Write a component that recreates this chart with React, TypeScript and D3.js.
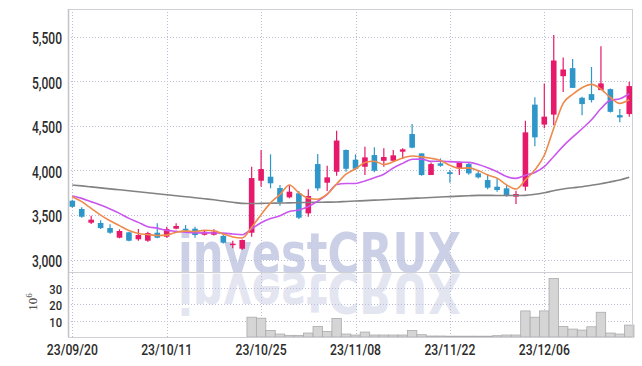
import React from "react";
import * as d3 from "d3";

const opens = [3660,3567,3413,3410,3353,3245,3305,3227,3211,3301,3256,3346,3345,3346,3278,3278,3264,3170,3121,3301,3884,3929,3802,3698,3743,3518,4071,3862,3985,4229,4120,4041,4172,4108,4108,4210,4408,4191,3948,4079,3980,4023,4071,3967,3892,3817,3799,3705,3817,4738,4514,4626,5057,5147,4815,4856,4901,4912,4620,4632];
const highs = [3670,3586,3491,3440,3395,3339,3310,3342,3312,3406,3368,3406,3387,3368,3320,3339,3290,3211,3225,4041,4229,4180,3836,3836,3770,3788,4184,4052,4445,4235,4180,4266,4259,4248,4229,4248,4520,4191,4090,4135,4004,4097,4090,4004,3959,3911,3836,3772,4557,4820,4976,5518,5268,5249,4826,5160,5394,4920,4688,4995];
const lows = [3580,3469,3398,3342,3290,3238,3205,3211,3200,3240,3245,3340,3312,3245,3270,3270,3180,3126,3107,3256,3817,3799,3604,3687,3454,3480,3772,3768,3940,3985,4004,3948,3978,4041,4108,4128,4248,3940,3948,4041,3862,3948,3950,3910,3789,3761,3705,3623,3772,4270,4472,4506,4881,4926,4620,4762,4901,4650,4539,4601];
const closes = [3592,3480,3447,3353,3301,3320,3211,3275,3297,3245,3342,3376,3335,3275,3312,3312,3189,3178,3219,3914,4015,3855,3642,3761,3469,3712,3799,3922,4335,4018,4018,4146,3996,4150,4169,4236,4255,3948,4071,4052,3960,4090,3967,3922,3806,3780,3716,3735,4427,4371,4603,5233,5132,4926,4744,4789,4976,4657,4594,4946];
const volumes = [0,0,0,0,0,0,0,0,0,0,0,0,0,0,0,0,0,0,0,12,11.4,4,1.8,1,1,2.4,6.4,3.4,11.2,1.8,1.2,3,1.2,1.2,1.2,1.2,4,1.4,0.6,0.6,0.5,0.5,0.5,0.5,0.5,0.8,1.2,1.2,15.8,12,15.8,35.5,6.4,4.8,4.2,6.2,15,2.4,1.8,7.2];
const ma5 = [3705,3649,3574,3499,3435,3380,3326,3292,3281,3270,3274,3307,3319,3315,3328,3322,3285,3253,3242,3362,3503,3636,3729,3837,3748,3688,3677,3733,3847,3957,4018,4088,4103,4066,4096,4139,4161,4152,4136,4112,4057,4024,4028,3998,3949,3913,3838,3792,3893,4006,4170,4474,4753,4853,4928,4965,4913,4818,4752,4792];
const ma10 = [3712,3686,3649,3611,3567,3518,3462,3417,3368,3352,3327,3317,3306,3298,3299,3298,3296,3286,3278,3345,3413,3460,3491,3540,3555,3595,3656,3731,3842,3853,3853,3882,3918,3957,4027,4079,4125,4127,4101,4104,4098,4093,4090,4067,4031,3985,3931,3910,3946,3977,4042,4156,4273,4373,4467,4568,4694,4786,4803,4860];
const ma60 = [3836,3826,3815,3804,3793,3782,3771,3760,3749,3738,3727,3716,3705,3694,3682,3670,3656,3642,3630,3628,3630,3632,3634,3636,3638,3640,3642,3644,3646,3651,3656,3661,3666,3671,3676,3681,3686,3691,3696,3701,3706,3711,3716,3720,3720,3719,3718,3718,3720,3732,3750,3772,3792,3805,3817,3834,3851,3871,3892,3922];
const priceTicks = [3000,3500,4000,4500,5000,5500];
const volTicks = [10,20,30];
const dateTickIdx = [0,10,20,30,40,50];
const dateTickLabels = ["23/09/20","23/10/11","23/10/25","23/11/08","23/11/22","23/12/06"];

const W = 642, H = 366;
const L = 68, R = 632, T = 9, MID = 272, B = 337;
const UP = "#e6196a", DOWN = "#2f96c9";
const GRID = "#b9bdd6";
const FONT = "Roboto, 'DejaVu Sans', sans-serif";

export default function App() {
  const x = d3.scaleLinear().domain([0, 50]).range([72.3, 544.3]);
  const step = x(1) - x(0);
  const y = d3.scaleLinear().domain([2860, 5811]).range([MID, T]);
  const yv = d3.scaleLinear().domain([0, 39.4]).range([B, MID]);
  const idx = d3.range(closes.length);
  const line = (arr: number[]) =>
    d3.line<number>().x((i) => x(i)).y((i) => y(arr[i])).curve(d3.curveMonotoneX)(idx) || "";
  const bw = 5.6;

  return (
    <svg width={W} height={H} style={{ position: "absolute", left: 0, top: 0, background: "#fff" }}>
      {/* watermark */}
      <g fontFamily="'DejaVu Sans', sans-serif" fontWeight="bold" fontSize={55}>
        <text x={178} y={272} fill="#cbd0e7" textLength={283} lengthAdjust="spacingAndGlyphs">investCRUX</text>
        <g transform={`translate(0, ${273 * 2}) scale(1,-1)`}>
          <text x={178} y={272} fill="#e3e5f1" textLength={283} lengthAdjust="spacingAndGlyphs">investCRUX</text>
        </g>
      </g>
      {/* grid */}
      <g stroke={GRID} strokeWidth={1} strokeDasharray="1,2">
        {priceTicks.map((v) => (
          <line key={"p" + v} x1={L} x2={R} y1={Math.round(y(v)) + 0.5} y2={Math.round(y(v)) + 0.5} />
        ))}
        {volTicks.map((v) => (
          <line key={"v" + v} x1={L} x2={R} y1={Math.round(yv(v)) + 0.5} y2={Math.round(yv(v)) + 0.5} />
        ))}
        {dateTickIdx.map((i) => (
          <line key={"d" + i} x1={Math.round(x(i)) + 0.5} x2={Math.round(x(i)) + 0.5} y1={T} y2={B} />
        ))}
      </g>
      {/* volume bars */}
      <g>
        {idx.filter((i) => volumes[i] > 0).map((i) => (
          <rect key={i} x={x(i) - step / 2} width={step} y={yv(volumes[i])} height={B - yv(volumes[i])}
            fill="#d5d5d5" stroke="#ababab" strokeWidth={0.8} />
        ))}
      </g>
      {/* candles */}
      <g>
        {idx.map((i) => {
          const up = closes[i] >= opens[i];
          const c = up ? UP : DOWN;
          const top = y(Math.max(opens[i], closes[i]));
          const bot = y(Math.min(opens[i], closes[i]));
          const h = Math.max(1.5, bot - top);
          return (
            <g key={i}>
              <line x1={x(i)} x2={x(i)} y1={y(highs[i])} y2={y(lows[i])} stroke={c} strokeWidth={1.2} />
              <rect x={x(i) - bw / 2} width={bw} y={top} height={h} fill={c} />
            </g>
          );
        })}
      </g>
      {/* moving averages */}
      <path d={line(ma60)} fill="none" stroke="#828282" strokeWidth={1.6} />
      <path d={line(ma10)} fill="none" stroke="#c957ee" strokeWidth={1.6} />
      <path d={line(ma5)} fill="none" stroke="#ee8a4c" strokeWidth={1.6} />
      {/* frame */}
      <g stroke="#cfd0d6" strokeWidth={1} fill="none">
        <rect x={L + 0.5} y={T + 0.5} width={R - L} height={B - T} />
        <line x1={L} x2={R} y1={MID + 0.5} y2={MID + 0.5} />
      </g>
      <line x1={L + 0.5} x2={L + 0.5} y1={T} y2={B} stroke="#c4c4c8" strokeWidth={1.5} />
      {/* y labels */}
      <g fontFamily={FONT} fontWeight={500} fill="#2b2b2b" textAnchor="end">
        {priceTicks.map((v) => (
          <text key={v} x={62} y={y(v) + 7.3} fontSize={16.5} textLength={30} lengthAdjust="spacingAndGlyphs">{d3.format(",")(v)}</text>
        ))}
        {volTicks.map((v) => (
          <text key={v} x={62} y={yv(v) + 6} fontSize={13} textLength={12.7} lengthAdjust="spacingAndGlyphs">{v}</text>
        ))}
      </g>
      {/* x labels */}
      <g fontFamily={FONT} fontWeight={500} fontSize={15.5} fill="#2b2b2b" textAnchor="middle">
        {dateTickIdx.map((i, k) => (
          <text key={i} x={x(i)} y={354.5} textLength={51} lengthAdjust="spacingAndGlyphs">{dateTickLabels[k]}</text>
        ))}
      </g>
      <text transform="translate(37,302) rotate(-90)" fontFamily="'Liberation Serif', serif" fontSize={13} fill="#333" textAnchor="middle">
        10<tspan dy={-5} fontSize={9}>6</tspan>
      </text>
    </svg>
  );
}
